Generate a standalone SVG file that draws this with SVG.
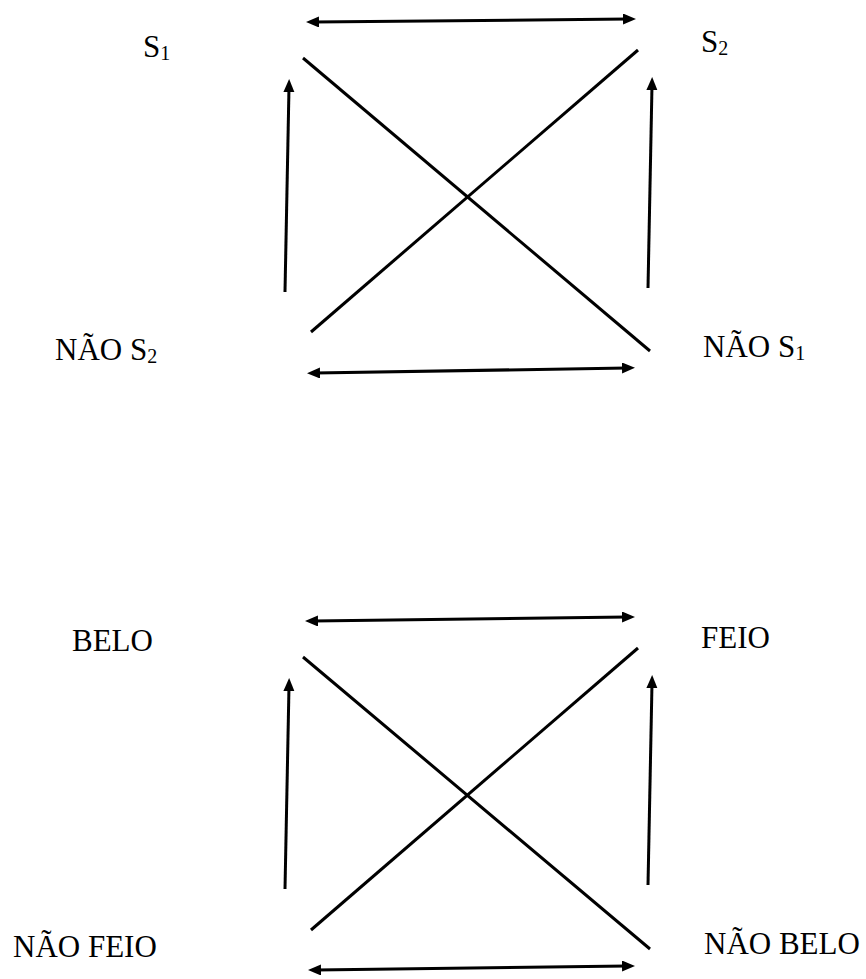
<svg xmlns="http://www.w3.org/2000/svg" width="866" height="979" viewBox="0 0 866 979">
<style>
.lbl{font-family:"Liberation Serif","Times New Roman",serif;font-size:31px;fill:#000}
.sub{font-size:20px}
.ln{stroke:#000;stroke-width:3;fill:none}
.ar{marker-end:url(#ah)}
.dbl{marker-start:url(#ah);marker-end:url(#ah)}
</style>
<defs>
<marker id="ah" markerUnits="userSpaceOnUse" markerWidth="14" markerHeight="12" refX="5" refY="5.5" orient="auto-start-reverse">
<path d="M0,0 L13,5.5 L0,11 Z" fill="#000"/>
</marker>
</defs>
<rect width="866" height="979" fill="#fff"/>
<g id="connectors">
<line class="ln dbl" x1="314" y1="22" x2="628" y2="19"/>
<line class="ln ar" x1="285" y1="292" x2="289" y2="87"/>
<line class="ln ar" x1="648" y1="288" x2="652" y2="85"/>
<line class="ln dbl" x1="315" y1="373" x2="627" y2="368"/>
<line class="ln" x1="303" y1="58" x2="650" y2="351"/>
<line class="ln" x1="638" y1="50" x2="311" y2="332"/>
<line class="ln dbl" x1="313" y1="621" x2="627" y2="617"/>
<line class="ln ar" x1="285" y1="889" x2="289" y2="686"/>
<line class="ln ar" x1="648" y1="885" x2="652" y2="683"/>
<line class="ln dbl" x1="316" y1="970" x2="627" y2="966"/>
<line class="ln" x1="303" y1="657" x2="650" y2="949"/>
<line class="ln" x1="638" y1="648" x2="311" y2="930"/>
</g>
<g id="s1"><text class="lbl" x="143" y="57">S<tspan class="sub" dy="3">1</tspan></text></g>
<g id="s2"><text class="lbl" x="701" y="52">S<tspan class="sub" dy="3">2</tspan></text></g>
<g id="nao-s2"><text class="lbl" x="55" y="360">NÃO S<tspan class="sub" dy="3">2</tspan></text></g>
<g id="nao-s1"><text class="lbl" x="703" y="357">NÃO S<tspan class="sub" dy="3">1</tspan></text></g>
<g id="belo"><text class="lbl" x="72" y="651">BELO</text></g>
<g id="feio"><text class="lbl" x="701" y="648">FEIO</text></g>
<g id="nao-feio"><text class="lbl" x="13" y="957">NÃO FEIO</text></g>
<g id="nao-belo"><text class="lbl" x="704" y="954">NÃO BELO</text></g>
</svg>
